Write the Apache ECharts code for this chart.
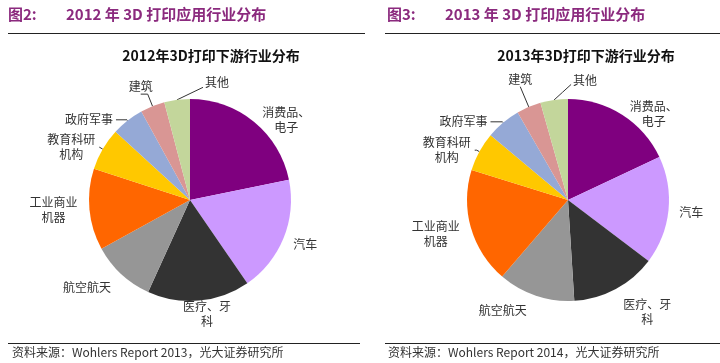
<!DOCTYPE html>
<html><head><meta charset="utf-8">
<script src="https://cdn.jsdelivr.net/npm/echarts@6/dist/echarts.min.js"></script>
<style>html,body{margin:0;padding:0;background:#fff}#c{width:720px;height:363px}</style>
</head><body><div id="c"></div>
<script>
// ---- data ----
var categories = ['消费品、电子', '汽车', '医疗、牙科', '航空航天', '工业商业机器', '教育科研机构', '政府军事', '建筑', '其他'];
var labelTexts = ['消费品、\n电子', '汽车', '医疗、牙\n科', '航空航天', '工业商业\n机器', '教育科研\n机构', '政府军事', '建筑', '其他'];
var values2012 = [21.8, 18.6, 16.4, 10.2, 13.0, 6.8, 5.2, 3.9, 4.1];
var values2013 = [18.0, 17.3, 13.7, 12.3, 18.5, 6.3, 5.6, 3.9, 4.4];
var figTitles = ['图2:', '图3:'];
var figSubtitles = ['2012 年 3D 打印应用行业分布', '2013 年 3D 打印应用行业分布'];
var chartTitles = ['2012年3D打印下游行业分布', '2013年3D打印下游行业分布'];
var sources = ['资料来源：Wohlers Report 2013，光大证券研究所', '资料来源：Wohlers Report 2014，光大证券研究所'];

// ---- styles / layout ----
var colors = ['#7F007F', '#CC99FF', '#333333', '#969696', '#FF6600', '#FFC800', '#95A9D6', '#D99694', '#C3D69B'];
var hdrColor = '#8B2A7E';
// label tuning per slice: L=length, L2=length2, d=distance, line shown, align/va override, dx/dy
var tune = [
  [
    {L: 2, L2: 31, d: 0, line: false, align: 'center'},
    {L: 19, L2: 4, d: 0, line: false, align: 'center'},
    {L: 13, L2: 7, d: 0, line: false, align: 'center'},
    {L: 18, L2: 22, d: 0, line: false, align: 'center'},
    {L: 5, L2: 31, d: 0, line: false, align: 'center'},
    {L: 4, L2: 0, d: 2, line: true, rich: true},
    {L: 1, L2: 11, d: 3, line: true},
    {L: 13, L2: 7, d: 0, line: true, align: 'center', va: 'bottom'},
    {L: 0, L2: 0, d: 0, line: true, align: 'left', dx: 28, dy: -17, diag: true}
  ],
  [
    {L: 1, L2: 31, d: 0, line: false, align: 'center'},
    {L: 23, L2: 0, d: 0, line: false, align: 'center'},
    {L: 26, L2: 19, d: 0, line: false, align: 'center'},
    {L: 16, L2: 28, d: 0, line: false, align: 'center'},
    {L: 22, L2: 14, d: 0, line: false, align: 'center'},
    {L: 3, L2: 2, d: 2, line: true, rich: true},
    {L: 1, L2: 12, d: 3, line: true},
    {L: 22, L2: 0, d: 0, line: true, align: 'center', va: 'bottom'},
    {L: 0, L2: 0, d: 0, line: true, align: 'left', dx: 19, dy: -20, diag: true}
  ]
];
var centers = [[190, 200], [568, 200]];
var radius = 101;
var cjk = '"Noto Sans CJK SC", sans-serif';

function buildData(vals, si) {
  return categories.map(function (name, i) {
    var t = tune[si][i];
    var txt = labelTexts[i];
    if (t.rich) {
      txt = txt.split('\n').map(function (s) { return '{b|' + s + '}'; }).join('\n');
    }
    return {
      name: name,
      value: vals[i],
      itemStyle: {color: colors[i]},
      label: {formatter: txt, distanceToLabelLine: t.d},
      labelLine: {show: t.line, length: t.L, length2: t.L2}
    };
  });
}

function series(vals, si) {
  return {
    type: 'pie',
    center: centers[si],
    radius: radius,
    startAngle: 90,
    clockwise: true,
    avoidLabelOverlap: false,
    minShowLabelAngle: 0,
    animation: false,
    label: {
      show: true, position: 'outside', color: '#333', fontSize: 12, lineHeight: 15,
      fontFamily: cjk,
      rich: {b: {width: 52, align: 'center', fontSize: 12, lineHeight: 15, color: '#333', fontFamily: cjk}}
    },
    labelLine: {lineStyle: {color: '#333', width: 1}, smooth: false},
    labelLayout: function (p) {
      var t = tune[p.seriesIndex][p.dataIndex];
      var o = {};
      if (t.align) o.align = t.align;
      if (t.va) o.verticalAlign = t.va;
      if (t.dx) o.dx = t.dx;
      if (t.dy) o.dy = t.dy;
      if (t.diag && p.labelLinePoints) {
        // straight diagonal guide from the slice edge to the lower-left of the moved label
        var p0 = p.labelLinePoints[0];
        var r = p.labelRect;
        var endX = r.x + r.width + (t.dx || 0) - 2;
        var endY = r.y + r.height + (t.dy || 0) - 3;
        o.labelLinePoints = [[p0[0], p0[1]], [(p0[0] + endX) / 2, (p0[1] + endY) / 2], [endX, endY]];
      }
      return o;
    },
    emphasis: {disabled: true},
    data: buildData(vals, si)
  };
}

var chart = echarts.init(document.getElementById('c'), null, {renderer: 'canvas'});
chart.setOption({
  backgroundColor: '#fff',
  animation: false,
  title: [
    {text: chartTitles[0], left: 206, top: 44, textAlign: 'center',
     textStyle: {fontFamily: cjk, fontWeight: 'bold', fontSize: 14, color: '#111'}},
    {text: chartTitles[1], left: 581, top: 44, textAlign: 'center',
     textStyle: {fontFamily: cjk, fontWeight: 'bold', fontSize: 14, color: '#111'}}
  ],
  graphic: [
    {type: 'text', left: 8, top: 7, style: {text: figTitles[0], font: 'bold 15px ' + cjk, fill: hdrColor}},
    {type: 'text', left: 66, top: 7, style: {text: figSubtitles[0], font: 'bold 15px ' + cjk, fill: hdrColor}},
    {type: 'text', left: 387, top: 7, style: {text: figTitles[1], font: 'bold 15px ' + cjk, fill: hdrColor}},
    {type: 'text', left: 445, top: 7, style: {text: figSubtitles[1], font: 'bold 15px ' + cjk, fill: hdrColor}},
    {type: 'line', shape: {x1: 8, y1: 33.5, x2: 365, y2: 33.5}, style: {stroke: '#222', lineWidth: 1}},
    {type: 'line', shape: {x1: 385, y1: 33.5, x2: 720, y2: 33.5}, style: {stroke: '#222', lineWidth: 1}},
    {type: 'line', shape: {x1: 8, y1: 343.5, x2: 360, y2: 343.5}, style: {stroke: '#222', lineWidth: 1}},
    {type: 'line', shape: {x1: 385, y1: 343.5, x2: 720, y2: 343.5}, style: {stroke: '#222', lineWidth: 1}},
    {type: 'text', left: 12, top: 346, style: {text: sources[0], font: '12px ' + cjk, fill: '#333'}},
    {type: 'text', left: 388, top: 346, style: {text: sources[1], font: '12px ' + cjk, fill: '#333'}}
  ],
  series: [series(values2012, 0), series(values2013, 1)]
});
</script>
</body></html>
